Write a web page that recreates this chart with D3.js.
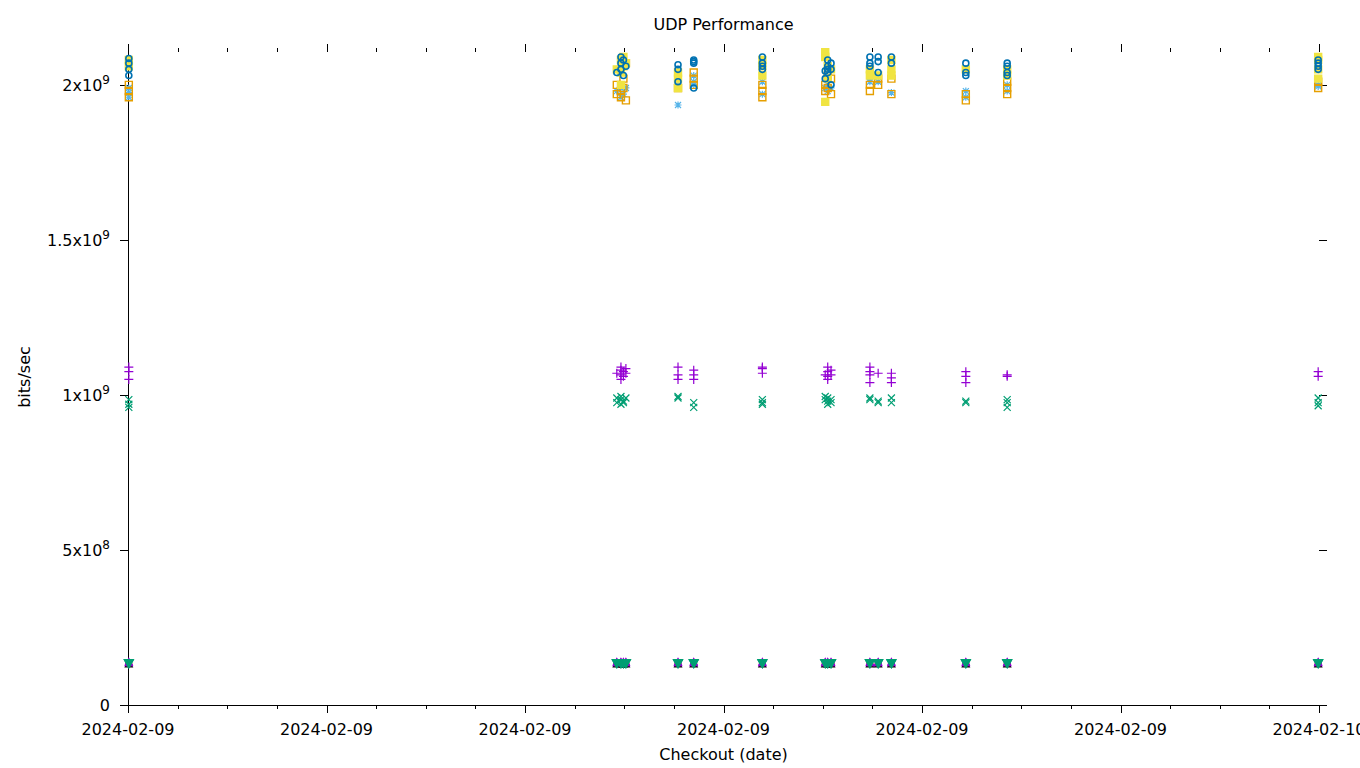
<!DOCTYPE html>
<html>
<head>
<meta charset="utf-8">
<script src="https://cdn.jsdelivr.net/npm/d3@7"></script>
<style>
  html, body { margin: 0; padding: 0; background: #fff; }
  svg { display: block; font-family: "DejaVu Sans", sans-serif; }
</style>
</head>
<body>
<svg id="chart" width="1360" height="768"></svg>
<script>
// ---------------- DATA ----------------
const chartTitle = "UDP Performance";
const xTitle = "Checkout (date)";
const yTitle = "bits/sec";
const xDomain = ["2024-02-09T00:00:00Z", "2024-02-10T00:00:00Z"];
const yMax = 2.106e9;
const yTickValues = [0, 5e8, 1e9, 1.5e9, 2e9];
const yTickMant = ["0", "5x10", "1x10", "1.5x10", "2x10"];
const yTickExp = ["", "8", "9", "9", "9"];

const checkoutTimes = [
  "2024-02-09T00:01:00Z", "2024-02-09T09:51:00Z", "2024-02-09T09:56:00Z",
  "2024-02-09T09:59:00Z", "2024-02-09T10:02:00Z", "2024-02-09T11:05:00Z",
  "2024-02-09T11:24:00Z", "2024-02-09T12:47:00Z", "2024-02-09T14:03:00Z",
  "2024-02-09T14:06:00Z", "2024-02-09T14:10:00Z", "2024-02-09T14:57:00Z",
  "2024-02-09T15:07:00Z", "2024-02-09T15:23:00Z", "2024-02-09T16:53:00Z",
  "2024-02-09T17:43:00Z", "2024-02-09T23:59:00Z"
];

// values per checkout (multiple runs each), in units of 1e9 bits/sec
const rxPlus = [
  [1.09,1.075,1.05],[1.07],[1.09,1.08,1.065,1.05],[1.075,1.06],[1.085,1.07],
  [1.09,1.065,1.05],[1.08,1.065,1.05],[1.09,1.085,1.07],[1.065],[1.09,1.075,1.06,1.05],
  [1.08,1.065],[1.09,1.075,1.065,1.04],[1.07],[1.07,1.055,1.04],[1.075,1.06,1.04],
  [1.065,1.06],[1.075,1.06]
];
const txCross = [
  [0.985,0.97,0.96],[0.99,0.975],[0.995,0.985,0.97],[0.98,0.975],[0.99],
  [0.995,0.99],[0.975,0.96],[0.985,0.975,0.97],[0.995,0.985],[0.99,0.98,0.97],
  [0.985,0.975],[0.99,0.985],[0.98,0.975],[0.99,0.975],[0.98,0.975],
  [0.985,0.975,0.96],[0.99,0.975,0.965]
];
const starLightBlue = [
  [1.99,1.975,1.96],[1.98],[1.99,1.96],[1.97],[1.99],
  [1.935,2.0],[2.03,2.01,2.0],[2.01,1.97],[1.99],[1.98,2.0],
  [1.99],[2.01,2.02],[2.01],[1.975],[1.98,1.96],
  [1.98,2.0],[2.0,1.995]
];
const squareOrange = [
  [2.0,1.98,1.96],[2.0,1.97],[1.98,1.96],[2.02,1.99],[1.95,2.07],
  [1.99],[2.04,2.02,2.0],[2.0,1.98,1.96],[2.0,1.98],[2.03,1.99],
  [2.02,1.97],[2.0,1.98],[2.02,2.0],[2.02,1.97],[1.97,1.95],
  [2.01,1.99,1.97],[2.01,1.99]
];
const squareYellow = [
  [2.08,2.06],[2.05],[2.08,2.04,2.0],[2.09,2.06],[2.07],
  [2.04,2.02,1.99],[],[2.08,2.06,2.03],[2.105,2.09,1.945],[2.06,2.02],
  [2.05],[2.05,2.03],[2.03],[2.08,2.05,2.03],[2.05],
  [2.05,2.03],[2.09,2.08,2.05,2.02]
];
const circleBlue = [
  [2.085,2.07,2.05,2.03],[2.04],[2.09,2.07,2.05],[2.08,2.03],[2.06],
  [2.065,2.05,2.01],[2.08,2.075,2.07,1.99],[2.09,2.07,2.06,2.05],[2.045,2.02],[2.08,2.06,2.05,2.04],
  [2.07,2.05,2.0],[2.09,2.07,2.06],[2.09,2.075,2.04],[2.09,2.07],[2.07,2.04,2.03],
  [2.07,2.06,2.04,2.03],[2.08,2.07,2.06,2.05]
];
// low-rate series, in units of 1e8 bits/sec (same at every checkout)
const lowRed = [1.33];
const lowBlack = [1.31];
const lowPurple = [1.37, 1.35];
const lowGreen = [1.37, 1.36];

// ---------------- CHART ----------------
const svg = d3.select("#chart");
const L = 128, R = 1319, T = 52, B = 705;
const x = d3.scaleUtc().domain(xDomain.map(d => new Date(d))).range([L, R]);
const y = d3.scaleLinear().domain([0, yMax]).range([B, T]);

const fs = 16;

svg.append("text").attr("x", (L + R) / 2).attr("y", 30).attr("text-anchor", "middle")
  .attr("font-size", fs).text(chartTitle);
svg.append("text").attr("x", (L + R) / 2).attr("y", 760).attr("text-anchor", "middle")
  .attr("font-size", fs).text(xTitle);
svg.append("text").attr("transform", "translate(30,377) rotate(-90)").attr("text-anchor", "middle")
  .attr("font-size", fs).text(yTitle);

const ax = svg.append("g").attr("stroke", "#000").attr("stroke-width", 1).attr("fill", "none");
ax.append("line").attr("x1", L + 0.5).attr("x2", L + 0.5).attr("y1", T).attr("y2", B);
ax.append("line").attr("x1", L).attr("x2", R).attr("y1", B + 0.5).attr("y2", B + 0.5);

const majorX = x.ticks(d3.utcHour.every(4));
const minorX = x.ticks(d3.utcHour.every(1)).filter(t => t.getUTCHours() % 4 !== 0);
majorX.forEach(t => {
  const px = Math.round(x(t)) + 0.5;
  ax.append("line").attr("x1", px).attr("x2", px).attr("y1", B).attr("y2", B + 8);
  ax.append("line").attr("x1", px).attr("x2", px).attr("y1", T - 8).attr("y2", T);
});
minorX.forEach(t => {
  const px = Math.round(x(t)) + 0.5;
  ax.append("line").attr("x1", px).attr("x2", px).attr("y1", B).attr("y2", B + 4);
  ax.append("line").attr("x1", px).attr("x2", px).attr("y1", T - 4).attr("y2", T);
});
yTickValues.forEach(v => {
  const py = Math.round(y(v)) + 0.5;
  ax.append("line").attr("x1", L - 8).attr("x2", L).attr("y1", py).attr("y2", py);
  ax.append("line").attr("x1", R).attr("x2", R + 8).attr("y1", py).attr("y2", py);
});

const fmt = d3.utcFormat("%Y-%m-%d");
majorX.forEach(t => {
  svg.append("text").attr("x", x(t)).attr("y", 735).attr("text-anchor", "middle")
    .attr("font-size", fs).text(fmt(t));
});
yTickValues.forEach((v, i) => {
  const tx = svg.append("text").attr("x", 110).attr("y", y(v) + 6).attr("text-anchor", "end")
    .attr("font-size", fs);
  tx.append("tspan").text(yTickMant[i]);
  if (yTickExp[i]) tx.append("tspan").attr("dy", -7).attr("font-size", 12).text(yTickExp[i]);
});

const sym = {
  plus: "M-4.5,0H4.5M0,-4.5V4.5",
  cross: "M-3.5,-3.5L3.5,3.5M-3.5,3.5L3.5,-3.5",
  star: "M-3.5,0H3.5M0,-3.5V3.5M-3,-3L3,3M-3,3L3,-3",
  square: "M-3.5,-3.5H3.5V3.5H-3.5Z",
  circle: "M3,0A3,3 0 1,1 -3,0A3,3 0 1,1 3,0Z",
  triUp: "M0,-4L3.5,2.5L-3.5,2.5Z",
  triDown: "M0,5L4.5,-3L-4.5,-3Z"
};
const series = [
  { vals: rxPlus, unit: 1e9, shape: "plus", color: "#9400d3", fill: false, sw: 1.2 },
  { vals: txCross, unit: 1e9, shape: "cross", color: "#009e73", fill: false, sw: 1.2 },
  { vals: starLightBlue, unit: 1e9, shape: "star", color: "#56b4e9", fill: false, sw: 1.2 },
  { vals: squareOrange, unit: 1e9, shape: "square", color: "#e69f00", fill: false, sw: 1.4 },
  { vals: squareYellow, unit: 1e9, shape: "square", color: "#f0e442", fill: true, sw: 1.4 },
  { vals: circleBlue, unit: 1e9, shape: "circle", color: "#0072b2", fill: false, sw: 1.6 },
  { vals: checkoutTimes.map(() => lowRed), unit: 1e8, shape: "circle", color: "#e51e10", fill: true, sw: 1.2 },
  { vals: checkoutTimes.map(() => lowBlack), unit: 1e8, shape: "triUp", color: "#000000", fill: false, sw: 1.2 },
  { vals: checkoutTimes.map(() => lowPurple), unit: 1e8, shape: "triUp", color: "#9400d3", fill: true, sw: 1.2 },
  { vals: checkoutTimes.map(() => lowGreen), unit: 1e8, shape: "triDown", color: "#009e73", fill: true, sw: 1.2 }
];
const marks = svg.append("g");
series.forEach(s => {
  const pts = [];
  s.vals.forEach((arr, i) => arr.forEach(v => pts.push({ t: new Date(checkoutTimes[i]), v: v * s.unit })));
  marks.append("g").selectAll("path").data(pts).join("path")
    .attr("transform", d => `translate(${x(d.t)},${y(d.v)})`)
    .attr("d", sym[s.shape])
    .attr("fill", s.fill ? s.color : "none")
    .attr("stroke", s.color)
    .attr("stroke-width", s.sw);
});
</script>
</body>
</html>
